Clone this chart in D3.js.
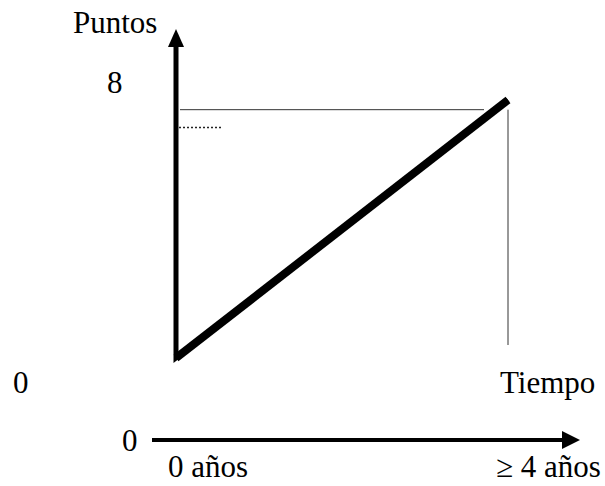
<!DOCTYPE html>
<html>
<head>
<meta charset="utf-8">
<script src="https://cdn.jsdelivr.net/npm/d3@7"></script>
<style>
  body { margin: 0; background: #fff; }
</style>
</head>
<body>
<svg id="chart" width="605" height="486"></svg>
<script>
// data
var years = [0, 4];            // tiempo (años)
var points = [0, 8];           // puntos
var guideLevels = [7.7, 7.15]; // thin guide lines near the top
var yTickLabels = ['0', '8'];
var xTickLabels = ['0 años', '\u2265 4 años'];
var yAxisTitle = 'Puntos';
var xAxisTitle = 'Tiempo';
var baseLabel = '0';

var svg = d3.select('#chart')
  .attr('font-family', 'Liberation Serif, Tinos, Times New Roman, DejaVu Serif, serif')
  .attr('font-size', 31);

var x = d3.scaleLinear().domain([0, 4]).range([176, 508]);
var y = d3.scaleLinear().domain([0, 8]).range([358, 100]);

var line = d3.line()
  .x(function(d) { return x(d.t); })
  .y(function(d) { return y(d.p); });

var series = years.map(function(t, i) { return { t: t, p: points[i] }; });

var axisX = x(0);

// guide lines
svg.append('line')
  .attr('x1', axisX + 4).attr('x2', x(4) - 24)
  .attr('y1', y(guideLevels[0])).attr('y2', y(guideLevels[0]))
  .attr('stroke', '#333').attr('stroke-width', 1);
svg.append('line')
  .attr('x1', x(4)).attr('x2', x(4))
  .attr('y1', y(guideLevels[0])).attr('y2', 345)
  .attr('stroke', '#333').attr('stroke-width', 1);
svg.append('line')
  .attr('x1', axisX + 3).attr('x2', axisX + 46)
  .attr('y1', y(guideLevels[1])).attr('y2', y(guideLevels[1]))
  .attr('stroke', '#222').attr('stroke-width', 1.5)
  .attr('stroke-dasharray', '2,2');

// vertical axis joined to the series start, with arrow
svg.append('path')
  .datum(series)
  .attr('d', function(d) {
    return 'M' + axisX + ',44L' + axisX + ',' + y(d[0].p) + 'L' + x(d[1].t) + ',' + y(d[1].p);
  })
  .attr('fill', 'none')
  .attr('stroke', '#000')
  .attr('stroke-width', 5)
  .attr('stroke-linejoin', 'miter');
svg.append('path')
  .attr('d', 'M' + (axisX - 8) + ',47L' + axisX + ',29L' + (axisX + 8) + ',47Z')
  .attr('fill', '#000');

// thick series line
svg.append('path')
  .datum(series)
  .attr('d', line)
  .attr('fill', 'none')
  .attr('stroke', '#000')
  .attr('stroke-width', 8);

// bottom time axis
var bx = d3.scaleLinear().domain([0, 4]).range([152, 580]);
var by = 440;
svg.append('line')
  .attr('x1', bx(0)).attr('x2', bx(4) - 16)
  .attr('y1', by).attr('y2', by)
  .attr('stroke', '#000').attr('stroke-width', 4);
svg.append('path')
  .attr('d', 'M' + (bx(4) - 18) + ',' + (by - 9) + 'L' + bx(4) + ',' + by + 'L' + (bx(4) - 18) + ',' + (by + 9) + 'Z')
  .attr('fill', '#000');

// labels
svg.append('text').attr('x', 73).attr('y', 33).text(yAxisTitle);
svg.append('text').attr('x', 500).attr('y', 393).text(xAxisTitle);

svg.selectAll('text.ytick')
  .data(yTickLabels)
  .enter().append('text')
  .attr('class', 'ytick')
  .attr('x', function(d, i) { return i === 0 ? 13 : 107; })
  .attr('y', function(d, i) { return i === 0 ? 393 : 93; })
  .text(function(d) { return d; });

svg.append('text').attr('x', 122).attr('y', 451).text(baseLabel);

svg.selectAll('text.xtick')
  .data(xTickLabels)
  .enter().append('text')
  .attr('class', 'xtick')
  .attr('x', function(d, i) { return x(years[i]) - (i === 0 ? 8 : 12); })
  .attr('y', 477)
  .text(function(d) { return d; });
</script>
</body>
</html>
